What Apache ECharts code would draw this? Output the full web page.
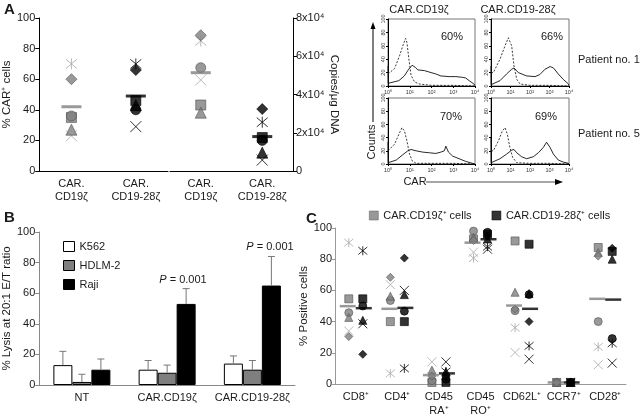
<!DOCTYPE html>
<html><head><meta charset="utf-8">
<script src="https://cdn.jsdelivr.net/npm/echarts@6/dist/echarts.min.js"></script>
<style>html,body{margin:0;padding:0;background:#fff}#c{width:643px;height:418px}</style>
</head><body><div id="c"></div>
<script>
// ---------- Panel A: scatter ----------
const aCats = ['CAR.\nCD19ζ', 'CAR.\nCD19-28ζ'];
const markerKinds = ['cross', 'asterisk', 'square', 'circle', 'triangle', 'diamond'];
const pctCD19z   = [23, 70, 35, 36, 27, 60];
const pctCD1928z = [29, 70, 46, 40, 43, 66];
const pctMeans   = [42, 49];
const copiesCD19z   = [47600, 68000, 34500, 54000, 30500, 71000];
const copiesCD1928z = [5700, 25500, 17500, 16000, 9600, 32400];
const copiesMeans   = [51400, 18000];

// ---------- Panel A: histograms (x = log10 decade, y = counts) ----------
const decadeLabels = ['10⁰', '10¹', '10²', '10³', '10⁴'];
const ctrlX_P1z   = [0, 0.3, 0.53, 0.68, 0.81, 0.87, 0.96, 1.06, 1.22, 1.44, 2, 3, 4];
const ctrlY_P1z   = [18, 26, 45, 60, 71, 65, 40, 16, 6, 3, 1, 1, 0];
const carX_P1z    = [0, 0.01, 0.5, 0.75, 0.95, 1.11, 1.25, 1.37, 1.67, 1.98, 2.2, 2.43, 2.81, 3.12, 3.42, 3.57, 3.73, 3.95, 4];
const carY_P1z    = [30, 4, 8, 15, 25, 31, 28, 24, 23, 20, 18, 15, 14, 14, 13, 12, 8, 3, 1];
const ctrlX_P1z28 = [0, 0.12, 0.46, 0.72, 0.89, 1.06, 1.18, 1.32, 1.49, 2, 3, 4];
const ctrlY_P1z28 = [20, 20, 40, 60, 72, 60, 30, 10, 3, 1, 1, 0];
const carX_P1z28  = [0, 0.01, 0.46, 0.8, 1.06, 1.18, 1.4, 1.83, 2.26, 2.5, 2.77, 3.03, 3.2, 3.45, 3.7, 3.97, 4];
const carY_P1z28  = [30, 2, 8, 18, 25, 27, 20, 15, 14, 17, 25, 29, 27, 18, 10, 3, 1];
const ctrlX_P5z   = [0, 0.08, 0.3, 0.5, 0.64, 0.76, 0.87, 0.99, 1.11, 1.29, 2, 3, 4];
const ctrlY_P5z   = [20, 20, 30, 45, 55, 50, 35, 15, 5, 1, 1, 1, 0];
const carX_P5z    = [0, 0.01, 0.38, 0.68, 0.91, 1.06, 1.29, 1.6, 1.9, 2.2, 2.43, 2.59, 2.66, 2.78, 2.97, 3.27, 3.57, 3.88, 4];
const carY_P5z    = [33, 2, 6, 14, 20, 22, 20, 18, 17, 16, 18, 20, 27, 18, 12, 8, 4, 1, 0];
const ctrlX_P5z28 = [0, 0.12, 0.38, 0.58, 0.72, 0.84, 0.97, 1.11, 1.32, 2, 3, 4];
const ctrlY_P5z28 = [20, 20, 35, 50, 55, 45, 25, 10, 2, 1, 1, 0];
const carX_P5z28  = [0, 0.01, 0.46, 0.8, 1.06, 1.18, 1.32, 1.57, 1.83, 2.17, 2.43, 2.68, 2.85, 3.03, 3.2, 3.45, 3.7, 3.97, 4];
const carY_P5z28  = [40, 2, 8, 15, 21, 22, 17, 11, 8, 11, 17, 25, 33, 25, 15, 6, 3, 1, 0];

// ---------- Panel B ----------
const bCats = ['NT', 'CAR.CD19ζ', 'CAR.CD19-28ζ'];
const lysisK562  = [13, 10, 14];
const sdK562     = [9, 6, 5];
const lysisHDLM2 = [2, 8, 10];
const sdHDLM2    = [5, 5, 6];
const lysisRaji  = [10, 53, 65];
const sdRaji     = [7, 10, 19];

// ---------- Panel C ----------
const cCats = ['CD8⁺', 'CD4⁺', 'CD45\nRA⁺', 'CD45\nRO⁺', 'CD62L⁺', 'CCR7⁺', 'CD28⁺'];
const gCross    = [34, 63.7, 14.2, 84.5, 20.2, 1, 12.3];
const gAsterisk = [90.6, 6.8, 5, 80.7, 36.1, 1, 23.8];
const gSquare   = [54.6, 40, 1, 93, 91.7, 1, 87.5];
const gCircle   = [45.7, 53.5, 2.1, 98, 47, 1, 40];
const gTriangle = [42.7, 56.3, 8.9, 94, 58.8, 1, 84.3];
const gDiamond  = [30.4, 68.4, 5, 92, 48, 1, 82];
const gMean     = [49.9, 48.2, 5.7, 90.6, 50.3, 1, 54.6];
const kCross    = [38.6, 60, 14.2, 86.4, 15.9, 1, 13.4];
const kAsterisk = [85.4, 10, 8, 88, 24.4, 1, 26.1];
const kSquare   = [54.6, 40, 1, 96, 89.6, 1, 85];
const kCircle   = [50, 46.7, 3, 97.2, 57.3, 1, 29.1];
const kTriangle = [40.8, 57.3, 7.9, 93, 58, 1, 80];
const kDiamond  = [19, 80.7, 5, 95, 40, 1, 87];
const kMean     = [48.6, 48.8, 6.8, 92.8, 48.2, 1, 54.1];

// ---------- build ----------
const fam = 'Arial, "Liberation Sans", Helvetica, sans-serif';
const TXT = '#1a1a1a';
const SYM = {
  square: 'rect', circle: 'circle', triangle: 'triangle', diamond: 'diamond',
  cross: 'path://M0,0L10,10M10,0L0,10',
  asterisk: 'path://M0,0L10,10M10,0L0,10M5,-1L5,11'
};
const GRAY = {fill: '#7f7f7f', edge: '#555', line: '#a8a8a8', mean: '#808080', bw: 0.8};
const BLACK = {fill: '#000', edge: '#000', line: '#000', mean: '#000', bw: 0.8};
const SIZE_A = {square: 10, circle: 10, triangle: 11, diamond: 11, cross: 11, asterisk: 11};
const SIZE_C = {square: 8, circle: 8, triangle: 8, diamond: 8, cross: 9, asterisk: 9};

function markerSeries(xi, yi, kind, data, pal, size, offset, name) {
  const isLine = kind === 'cross' || kind === 'asterisk';
  return {
    type: 'scatter', name: name, xAxisIndex: xi, yAxisIndex: yi, symbol: SYM[kind],
    symbolSize: size, symbolOffset: [offset, 0], data: data, silent: true, z: isLine ? 2 : 3,
    itemStyle: isLine ? {color: 'rgba(0,0,0,0)', borderColor: pal.line, borderWidth: 1}
                      : {color: pal.fill, borderColor: pal.edge, borderWidth: pal.bw}
  };
}
function meanSeries(xi, yi, data, pal, size, offset) {
  return {type: 'scatter', xAxisIndex: xi, yAxisIndex: yi, symbol: 'rect', symbolSize: size,
    symbolOffset: [offset, 0], data: data, silent: true, z: 4, itemStyle: {color: pal.mean}};
}

const series = [];
// Panel A scatter
markerKinds.forEach((k, i) => {
  series.push(markerSeries(0, 0, k, [[0, pctCD19z[i]]], GRAY, SIZE_A[k], 0));
  series.push(markerSeries(0, 0, k, [[1, pctCD1928z[i]]], BLACK, SIZE_A[k], 0));
  series.push(markerSeries(1, 1, k, [[0, copiesCD19z[i]]], GRAY, SIZE_A[k], 0));
  series.push(markerSeries(1, 1, k, [[1, copiesCD1928z[i]]], BLACK, SIZE_A[k], 0));
});
series.push(meanSeries(0, 0, [[0, pctMeans[0]]], GRAY, [20, 3], 0));
series.push(meanSeries(0, 0, [[1, pctMeans[1]]], BLACK, [20, 3], 0));
series.push(meanSeries(1, 1, [[0, copiesMeans[0]]], GRAY, [20, 3], 0));
series.push(meanSeries(1, 1, [[1, copiesMeans[1]]], BLACK, [20, 3], 0));

// Histograms
const zip = (xs, ys) => xs.map((x, i) => [x, ys[i]]);
const hists = [
  [ctrlX_P1z, ctrlY_P1z, carX_P1z, carY_P1z],
  [ctrlX_P1z28, ctrlY_P1z28, carX_P1z28, carY_P1z28],
  [ctrlX_P5z, ctrlY_P5z, carX_P5z, carY_P5z],
  [ctrlX_P5z28, ctrlY_P5z28, carX_P5z28, carY_P5z28]
];
hists.forEach((h, i) => {
  series.push({type: 'line', xAxisIndex: 2 + i, yAxisIndex: 2 + i, data: zip(h[0], h[1]), symbol: 'none',
    silent: true, lineStyle: {color: '#222', width: 0.9, type: [2, 1.6]}});
  series.push({type: 'line', xAxisIndex: 2 + i, yAxisIndex: 2 + i, data: zip(h[2], h[3]), symbol: 'none',
    silent: true, lineStyle: {color: '#111', width: 0.9}});
});

// Panel B bars + error bars
const bars = [
  ['K562', lysisK562, sdK562, '#fff', -19],
  ['HDLM-2', lysisHDLM2, sdHDLM2, '#7f7f7f', 0],
  ['Raji', lysisRaji, sdRaji, '#000', 19]
];
bars.forEach(b => {
  series.push({type: 'bar', name: b[0], xAxisIndex: 6, yAxisIndex: 6, data: b[1], barWidth: 19, barGap: '0%',
    silent: true, itemStyle: {color: b[3], borderColor: '#000', borderWidth: 1}});
});
bars.forEach(b => {
  const off = b[4];
  series.push({type: 'custom', xAxisIndex: 6, yAxisIndex: 6, silent: true, z: 5,
    data: b[1].map((v, i) => [i, v, b[2][i]]),
    renderItem: (params, api) => {
      const c = api.value(0), v = api.value(1), e = api.value(2);
      const p0 = api.coord([c, v]), p1 = api.coord([c, v + e]);
      const x = p0[0] + off;
      return {type: 'group', children: [
        {type: 'line', shape: {x1: x, y1: p0[1], x2: x, y2: p1[1]}, style: {stroke: '#777', lineWidth: 1}},
        {type: 'line', shape: {x1: x - 3.5, y1: p1[1], x2: x + 3.5, y2: p1[1]}, style: {stroke: '#777', lineWidth: 1}}
      ]};
    }});
});

// Panel C
const cGray = [gCross, gAsterisk, gSquare, gCircle, gTriangle, gDiamond];
const cBlack = [kCross, kAsterisk, kSquare, kCircle, kTriangle, kDiamond];
markerKinds.forEach((k, i) => {
  series.push(markerSeries(7, 7, k, cGray[i].map((v, j) => [j, v]), GRAY, SIZE_C[k], -7,
    k === 'square' ? 'CAR.CD19ζ⁺ cells' : undefined));
  series.push(markerSeries(7, 7, k, cBlack[i].map((v, j) => [j, v]), BLACK, SIZE_C[k], 7,
    k === 'square' ? 'CAR.CD19-28ζ⁺ cells' : undefined));
});
series.push(meanSeries(7, 7, gMean.map((v, j) => [j, v]), GRAY, [16, 2.5], -8));
series.push(meanSeries(7, 7, kMean.map((v, j) => [j, v]), BLACK, [16, 2.5], 8));

// Axes
const lbl = (extra) => Object.assign({fontFamily: fam, fontSize: 11, color: TXT}, extra || {});
const nameStyle = {fontFamily: fam, fontSize: 11.5, color: TXT};
const histGrid = (l, t, w, h) => ({left: l, top: t, width: w, height: h, show: true, borderColor: '#777', borderWidth: 1});
const grid = [
  {left: 36, top: 18, width: 132, height: 153},
  {left: 170, top: 18, width: 123, height: 153},
  histGrid(388, 19, 87, 67),
  histGrid(491, 19, 78, 67),
  histGrid(388, 98, 87, 66),
  histGrid(491, 98, 78, 66),
  {left: 36, top: 232, width: 259, height: 153},
  {left: 335, top: 228, width: 291, height: 157}
];
const aX = (gi) => ({gridIndex: gi, type: 'category', data: aCats, axisLine: {lineStyle: {color: '#000'}},
  axisTick: {show: false}, axisLabel: lbl({margin: 6, lineHeight: 13, interval: 0})});
const hX = (gi) => ({gridIndex: gi, type: 'value', min: 0, max: 4, interval: 1, splitLine: {show: false},
  axisLine: {show: true, lineStyle: {color: '#000'}}, axisTick: {show: true, length: 2, lineStyle: {color: '#000'}},
  axisLabel: {fontFamily: fam, fontSize: 5.5, color: '#333', margin: 3, formatter: v => decadeLabels[v]}});
const hY = (gi) => ({gridIndex: gi, type: 'value', min: 0, max: 100, interval: 20, splitLine: {show: false},
  axisLine: {show: true, lineStyle: {color: '#000'}}, axisTick: {show: true, length: 2, lineStyle: {color: '#000'}},
  axisLabel: {fontFamily: fam, fontSize: 5.5, color: '#333', margin: 2, rotate: 90}});
const xAxis = [
  aX(0), aX(1), hX(2), hX(3), hX(4), hX(5),
  {gridIndex: 6, type: 'category', data: bCats, axisLine: {lineStyle: {color: '#888'}},
   axisTick: {length: 4, lineStyle: {color: '#888'}}, axisLabel: lbl({margin: 7, interval: 0, hideOverlap: false})},
  {gridIndex: 7, type: 'category', data: cCats, axisLine: {lineStyle: {color: '#999'}},
   axisTick: {show: false}, axisLabel: lbl({margin: 6, lineHeight: 14, interval: 0})}
];
const yAxis = [
  {gridIndex: 0, type: 'value', min: 0, max: 100, interval: 20, splitLine: {show: false},
   axisLine: {show: true, lineStyle: {color: '#000'}}, axisTick: {show: true, length: 4}, axisLabel: lbl({margin: 4}),
   name: '% CAR⁺ cells', nameLocation: 'middle', nameGap: 19, nameTextStyle: nameStyle},
  {gridIndex: 1, type: 'value', position: 'right', min: 0, max: 80000, interval: 20000, splitLine: {show: false},
   axisLine: {show: true, lineStyle: {color: '#000'}}, axisTick: {show: true, length: 4},
   axisLabel: lbl({margin: 3, formatter: v => v === 0 ? '0' : (v / 10000) + 'x10⁴'}),
   name: 'Copies/μg DNA', nameLocation: 'middle', nameGap: 31, nameRotate: -90, nameTextStyle: nameStyle},
  hY(2), hY(3), hY(4), hY(5),
  {gridIndex: 6, type: 'value', min: 0, max: 100, interval: 20, splitLine: {show: false},
   axisLine: {show: true, lineStyle: {color: '#888'}}, axisTick: {show: true, length: 4, lineStyle: {color: '#888'}},
   axisLabel: lbl({margin: 4}),
   name: '% Lysis at 20:1 E/T ratio', nameLocation: 'middle', nameGap: 20, nameTextStyle: nameStyle},
  {gridIndex: 7, type: 'value', min: 0, max: 100, interval: 20, splitLine: {show: false},
   axisLine: {show: true, lineStyle: {color: '#999'}}, axisTick: {show: true, length: 3, lineStyle: {color: '#999'}},
   axisLabel: lbl({margin: 3}),
   name: '% Positive cells', nameLocation: 'middle', nameGap: 21, nameTextStyle: nameStyle}
];

const T = (text, x, y, extra) => ({type: 'text', x: x, y: y, silent: true,
  style: Object.assign({text: text, fill: TXT, fontFamily: fam, fontSize: 11, align: 'center', verticalAlign: 'middle'}, extra || {})});
const graphic = [
  T('A', 4, 10, {fontSize: 15, fontWeight: 'bold', align: 'left'}),
  T('B', 4, 218, {fontSize: 15, fontWeight: 'bold', align: 'left'}),
  T('C', 306, 219, {fontSize: 15, fontWeight: 'bold', align: 'left'}),
  T('CAR.CD19ζ', 419, 10),
  T('CAR.CD19-28ζ', 518, 10),
  T('60%', 452, 37),
  T('66%', 552, 37),
  T('70%', 451, 117),
  T('69%', 546, 117),
  T('Patient no. 1', 578, 60, {align: 'left'}),
  T('Patient no. 5', 578, 134, {align: 'left'}),
  Object.assign(T('Counts', 372, 142), {rotation: Math.PI / 2}),
  T('CAR', 415, 182),
  {type: 'line', silent: true, shape: {x1: 373, y1: 122, x2: 373, y2: 28}, style: {stroke: '#000', lineWidth: 1}},
  {type: 'polygon', silent: true, shape: {points: [[373, 22], [370.5, 29], [375.5, 29]]}, style: {fill: '#000'}},
  {type: 'line', silent: true, shape: {x1: 426, y1: 182, x2: 556, y2: 182}, style: {stroke: '#888', lineWidth: 1.5}},
  {type: 'polygon', silent: true, shape: {points: [[563, 182], [555, 179], [555, 185]]}, style: {fill: '#000'}},
  T('{i|P} = 0.001', 183, 280, {rich: {i: {fontStyle: 'italic', fontFamily: fam, fontSize: 11, fill: TXT}}}),
  T('{i|P} = 0.001', 270, 247, {rich: {i: {fontStyle: 'italic', fontFamily: fam, fontSize: 11, fill: TXT}}})
];

const chart = echarts.init(document.getElementById('c'), null, {renderer: 'canvas'});
chart.setOption({
  animation: false,
  backgroundColor: '#fff',
  textStyle: {fontFamily: fam},
  grid: grid, xAxis: xAxis, yAxis: yAxis, series: series, graphic: graphic,
  legend: [
    {data: ['K562', 'HDLM-2', 'Raji'], orient: 'vertical', left: 58, top: 236, itemWidth: 11, itemHeight: 10,
     itemGap: 8, icon: 'rect', selectedMode: false, itemStyle: {borderWidth: 1, borderColor: '#000'},
     textStyle: {fontFamily: fam, fontSize: 11, color: TXT}},
    {data: ['CAR.CD19ζ⁺ cells', 'CAR.CD19-28ζ⁺ cells'], orient: 'horizontal', left: 364, top: 205,
     itemWidth: 9, itemHeight: 9, itemGap: 20, icon: 'rect', selectedMode: false,
     itemStyle: {borderWidth: 0.6},
     textStyle: {fontFamily: fam, fontSize: 11, color: TXT}}
  ]
});
</script></body></html>
